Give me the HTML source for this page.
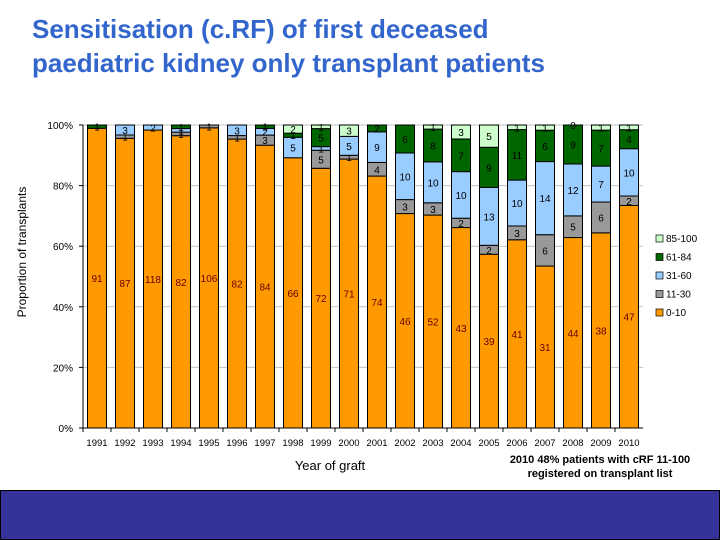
<!DOCTYPE html>
<html><head><meta charset="utf-8"><style>
body{margin:0;width:720px;height:540px;background:#fff;overflow:hidden;font-family:"Liberation Sans",sans-serif;position:relative}
#title{position:absolute;left:32px;top:12px;color:#3366cc;font-weight:bold;font-size:26px;line-height:34px;margin:0}
#band{position:absolute;left:0;top:490px;width:718px;height:48px;background:#333399;border:1px solid #000}
</style></head><body>
<h1 id="title">Sensitisation (c.RF) of first deceased<br>paediatric kidney only transplant patients</h1>
<svg id="chart" width="720" height="490" style="position:absolute;left:0;top:0" font-family="Liberation Sans, sans-serif"></svg>
<div id="band"></div>
<script>
const years=["1991","1992","1993","1994","1995","1996","1997","1998","1999","2000","2001","2002","2003","2004","2005","2006","2007","2008","2009","2010"];
const s0_10=[91,87,118,82,106,82,84,66,72,71,74,46,52,43,39,41,31,44,38,47];
const s11_30=[0,1,0,1,1,1,3,0,5,1,4,3,3,2,2,3,6,5,6,2];
const s31_60=[0,3,2,1,0,3,2,5,1,5,9,10,10,10,13,10,14,12,7,10];
const s61_84=[1,0,0,1,0,0,1,1,5,0,2,6,8,7,9,11,6,9,7,4];
const s85_100=[0,0,0,0,0,0,0,2,1,3,0,0,1,3,5,1,1,0,1,1];
const seriesNames=["0-10","11-30","31-60","61-84","85-100"];
const yTicks=[0,20,40,60,80,100];
const series=[s0_10,s11_30,s31_60,s61_84,s85_100];
const colors=["#ff9900","#999999","#99ccff","#006600","#ccffcc"];
const NS="http://www.w3.org/2000/svg";
const svg=document.getElementById('chart');
const X0=83,X1=643,Y0=428,Y1=125;
const step=(X1-X0)/years.length, bw=19;
const xc=i=>X0+step*(i+0.5);
const y=p=>Y0-(Y0-Y1)*p/100;
function mk(t,a){const e=document.createElementNS(NS,t);for(const k in a)e.setAttribute(k,a[k]);svg.appendChild(e);return e;}
yTicks.forEach(t=>{
  if(t>0){const g=mk('line',{x1:X0,x2:X1,y1:y(t),y2:y(t),stroke:'#c0c0c0'});
  
  }
  const tk=mk('line',{x1:X0-4,x2:X0,y1:y(t),y2:y(t),stroke:'#000'});
  
  
  const l=mk('text',{x:X0-10,y:y(t)+4,'text-anchor':'end','font-size':10});
  l.textContent=t+'%';
  
  
});
years.forEach((yr,i)=>{
  const tot=series.reduce((s,a)=>s+a[i],0);
  let cum=0;
  series.forEach((a,k)=>{
    const v=a[i];const p0=cum/tot*100;cum+=v;const p1=cum/tot*100;
    if(v>0){
      const r=mk('rect',{x:xc(i)-bw/2,y:y(p1),width:bw,height:y(p0)-y(p1),fill:colors[k],stroke:'#000','stroke-width':1});
      
      
    }
    if(v>0||k===4&&yr==="2008"){
      const t=mk('text',{x:xc(i),y:(y(p0)+y(p1))/2+4,'text-anchor':'middle','font-size':10,fill:k===0?'#660000':'#000'});
      t.textContent=v;
      
      
    }
  });
  const tk=mk('line',{x1:X0+step*i,x2:X0+step*i,y1:Y0,y2:Y0+4,stroke:'#000'});
  
  
  const l=mk('text',{x:xc(i),y:446,'text-anchor':'middle','font-size':9.5});
  l.textContent=yr;
  
  
});
const ax=mk('line',{x1:X0,x2:X0,y1:Y1,y2:Y0,stroke:'#000'});


const axx=mk('line',{x1:X0,x2:X1,y1:Y0,y2:Y0,stroke:'#000'});


for(let k=4;k>=0;k--){
  const ly=242+(4-k)*18.5;
  const r=mk('rect',{x:656,y:ly-7,width:7,height:7,fill:colors[k],stroke:'#000','stroke-width':0.7});
  
  
  const t=mk('text',{x:666,y:ly,'font-size':10});
  t.textContent=seriesNames[k];
  
  
}
const yt=mk('text',{x:0,y:0,'font-size':12,'text-anchor':'middle',transform:'translate(26,252) rotate(-90)'});
yt.textContent='Proportion of transplants';


const xt=mk('text',{x:330,y:470,'font-size':13,'text-anchor':'middle'});
xt.textContent='Year of graft';


const n1=mk('text',{x:600,y:463,'font-size':11,'font-weight':'bold','text-anchor':'middle'});
n1.textContent='2010 48% patients with cRF  11-100';


const n2=mk('text',{x:600,y:477,'font-size':11,'font-weight':'bold','text-anchor':'middle'});
n2.textContent='registered on transplant list';


</script>
</body></html>
